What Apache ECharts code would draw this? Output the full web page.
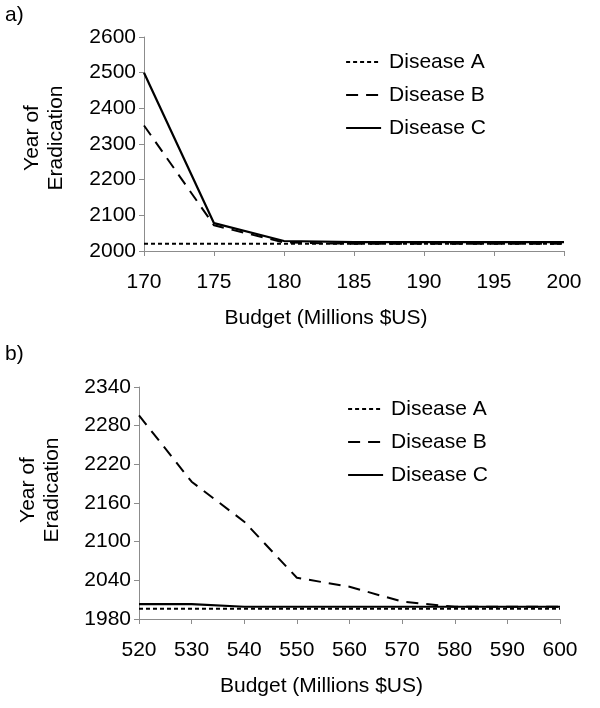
<!DOCTYPE html>
<html>
<head>
<meta charset="utf-8">
<script src="https://cdn.jsdelivr.net/npm/echarts@6/dist/echarts.min.js"></script>
<style>
html,body{margin:0;padding:0;background:#fff;}
#c{width:600px;height:708px;}
</style>
</head>
<body>
<div id="c"></div>
<script>
// Panel a
var budgetA = [170, 175, 180, 185, 190, 195, 200];
var diseaseA_a = [2020, 2020, 2020, 2020, 2020, 2020, 2020];
var diseaseB_a = [2352, 2072, 2024, 2020, 2020, 2020, 2020];
var diseaseC_a = [2500, 2078, 2028, 2025, 2025, 2025, 2025];
// Panel b
var budgetB = [520, 530, 540, 550, 560, 570, 580, 590, 600];
var diseaseA_b = [1996, 1996, 1996, 1996, 1996, 1996, 1996, 1996, 1996];
var diseaseB_b = [2296, 2193, 2131, 2044, 2030, 2007, 1999, 1999, 1999];
var diseaseC_b = [2003, 2003, 1999, 1999, 1999, 1999, 1999, 1999, 1999];
var names = ['Disease A', 'Disease B', 'Disease C'];

function pairs(xs, ys) { return xs.map(function (x, i) { return [x, ys[i]]; }); }

var FONT = '"Liberation Sans", Arial, sans-serif';
var FS = 21;
var axisGray = '#8c8c8c';
var styles = [
  { type: [4, 3], width: 2 },
  { type: [12, 8], width: 2 },
  { type: 'solid', width: 2.2 }
];

function xAxisCfg(grid, min, max, interval) {
  return {
    type: 'value', gridIndex: grid, min: min, max: max, interval: interval,
    name: 'Budget (Millions $US)', nameLocation: 'middle', nameGap: 57,
    nameTextStyle: { fontFamily: FONT, fontSize: FS, color: '#000', padding: [0, 56, 0, 0] },
    axisLine: { show: true, lineStyle: { color: axisGray, width: 1 } },
    axisTick: { show: true, length: 5, lineStyle: { color: axisGray } },
    axisLabel: { margin: 21, fontFamily: FONT, fontSize: FS, color: '#000' },
    splitLine: { show: false }
  };
}
function yAxisCfg(grid, min, max, interval, gap, shift) {
  return {
    type: 'value', gridIndex: grid, min: min, max: max, interval: interval,
    name: 'Year of\nEradication', nameLocation: 'middle', nameGap: gap, nameRotate: 90,
    nameTextStyle: { fontFamily: FONT, fontSize: FS, color: '#000', lineHeight: 24, padding: [0, 0, 0, shift] },
    axisLine: { show: true, lineStyle: { color: axisGray, width: 1 } },
    axisTick: { show: true, length: 5, lineStyle: { color: axisGray } },
    axisLabel: { margin: 8, fontFamily: FONT, fontSize: FS, color: '#000',
      formatter: function (v) { return String(v); } },
    splitLine: { show: false }
  };
}

var series = [];
var dataA = [diseaseA_a, diseaseB_a, diseaseC_a];
var dataB = [diseaseA_b, diseaseB_b, diseaseC_b];
for (var i = 0; i < 3; i++) {
  series.push({
    name: names[i], type: 'line', xAxisIndex: 0, yAxisIndex: 0,
    data: pairs(budgetA, dataA[i]), symbol: 'none', silent: true,
    lineStyle: { color: '#000', width: styles[i].width, type: styles[i].type },
    itemStyle: { color: '#000' }, z: 3 - i
  });
}
for (var j = 0; j < 3; j++) {
  series.push({
    name: names[j], type: 'line', xAxisIndex: 1, yAxisIndex: 1,
    data: pairs(budgetB, dataB[j]), symbol: 'none', silent: true,
    lineStyle: { color: '#000', width: styles[j].width, type: styles[j].type },
    itemStyle: { color: '#000' }, z: 3 - j
  });
}

function legendCfg(top, left) {
  return {
    data: names.map(function (n, k) {
      return {
        name: n,
        itemStyle: { opacity: 0 },
        lineStyle: { color: '#000', width: styles[k].width, type: styles[k].type, opacity: 1 }
      };
    }),
    orient: 'vertical', left: left, top: top,
    itemWidth: 35, itemHeight: 14, itemGap: 11, selectedMode: false,
    textStyle: { fontFamily: FONT, fontSize: FS, color: '#000', lineHeight: 22, padding: [0, 0, 0, 3] }
  };
}

var chart = echarts.init(document.getElementById('c'), null, { renderer: 'canvas' });
chart.setOption({
  animation: false,
  backgroundColor: '#fff',
  grid: [
    { left: 144, top: 37, width: 420, height: 214 },
    { left: 139, top: 387, width: 421, height: 232 }
  ],
  xAxis: [xAxisCfg(0, 170, 200, 5), xAxisCfg(1, 520, 600, 10)],
  yAxis: [yAxisCfg(0, 2000, 2600, 100, 76, 12), yAxisCfg(1, 1980, 2340, 60, 75, 26)],
  legend: [legendCfg(46, 340), legendCfg(393, 342)],
  graphic: [
    { type: 'text', left: 5, top: 5, style: { text: 'a)', font: FS + 'px ' + FONT, fill: '#000' } },
    { type: 'text', left: 5, top: 344, style: { text: 'b)', font: FS + 'px ' + FONT, fill: '#000' } }
  ],
  series: series
});
</script>
</body>
</html>
